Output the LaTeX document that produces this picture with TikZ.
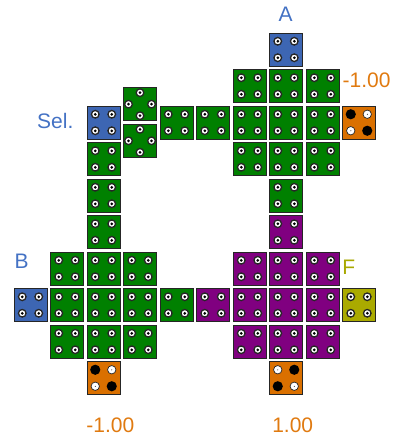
\documentclass[tikz,border=0pt]{standalone}
\usepackage{fontspec}
\setmainfont{Liberation Sans}
\definecolor{cblue}{HTML}{3D66B3}
\definecolor{cgreen}{HTML}{008000}
\definecolor{cpurple}{HTML}{800080}
\definecolor{corange}{HTML}{DA7000}
\definecolor{cyellow}{HTML}{AAAA00}
\definecolor{tblue}{HTML}{4472C4}
\definecolor{torange}{HTML}{E07A10}
\definecolor{tolive}{HTML}{A8A800}
\newcommand\ringdotat[1]{\draw[fill=white, line width=1.3pt] #1 circle[radius=3.8pt]; \fill[black] #1 circle[radius=1.5pt];}
\newcommand\blackdotat[1]{\fill[black] #1 circle[radius=5.1pt];}
\newcommand\whitedotat[1]{\draw[fill=white, line width=0.7pt] #1 circle[radius=4.2pt]; \fill[black] #1 circle[radius=0.5pt];}
\tikzset{
  cellbox/.style={draw=black!85, line width=0.8pt, minimum width=33pt, minimum height=33pt, inner sep=0pt, outer sep=0pt},
  dotcell/.style={cellbox, fill=#1, path picture={
      \coordinate (pc) at (path picture bounding box.center);
      \foreach \dx/\dy in {-8.25/8.25, 8.25/8.25, -8.25/-8.25, 8.25/-8.25}
        {\ringdotat{([shift={(\dx pt,\dy pt)}]pc)}}}},
  diamcell/.style={cellbox, fill=cgreen, path picture={
      \coordinate (pc) at (path picture bounding box.center);
      \foreach \dx/\dy in {0/11.5, -11.5/0, 11.5/0, 0/-11.5}
        {\ringdotat{([shift={(\dx pt,\dy pt)}]pc)}}}},
  orangeA/.style={cellbox, fill=corange, path picture={
      \coordinate (pc) at (path picture bounding box.center);
      \blackdotat{([shift={(-8.25pt,8.25pt)}]pc)}
      \whitedotat{([shift={(8.25pt,8.25pt)}]pc)}
      \whitedotat{([shift={(-8.25pt,-8.25pt)}]pc)}
      \blackdotat{([shift={(8.25pt,-8.25pt)}]pc)}}},
  orangeB/.style={cellbox, fill=corange, path picture={
      \coordinate (pc) at (path picture bounding box.center);
      \whitedotat{([shift={(-8.25pt,8.25pt)}]pc)}
      \blackdotat{([shift={(8.25pt,8.25pt)}]pc)}
      \blackdotat{([shift={(-8.25pt,-8.25pt)}]pc)}
      \whitedotat{([shift={(8.25pt,-8.25pt)}]pc)}}},
  lbl/.style={inner sep=0pt, font=\fontsize{21pt}{25pt}\selectfont}
}
\newcommand\cellat[3]{\node[#1] (n-#2-#3) at ({30.5+36.5*#2},{49.5+36.5*#3}) {};}
\begin{document}
\begin{tikzpicture}[x=1pt,y=-1pt]
\useasboundingbox (0,0) rectangle (394,439);
% green cells
\foreach \c/\r in {6/1,7/1,8/1, 4/2,5/2,6/2,7/2,8/2, 2/3,6/3,7/3,8/3, 2/4,7/4, 2/5,
                   1/6,2/6,3/6, 1/7,2/7,3/7,4/7, 1/8,2/8,3/8}
  {\cellat{dotcell=cgreen}{\c}{\r}}
% purple cells
\foreach \c/\r in {7/5, 6/6,7/6,8/6, 5/7,6/7,7/7,8/7, 6/8,7/8,8/8}
  {\cellat{dotcell=cpurple}{\c}{\r}}
% blue cells
\cellat{dotcell=cblue}{7}{0}
\cellat{dotcell=cblue}{2}{2}
\cellat{dotcell=cblue}{0}{7}
% yellow
\cellat{dotcell=cyellow}{9}{7}
% orange
\cellat{orangeA}{9}{2}
\cellat{orangeA}{2}{9}
\cellat{orangeB}{7}{9}
% diamond cells
\node[diamcell] (d-up) at (140,104.2) {};
\node[diamcell] (d-dn) at (140,140.8) {};
% labels
\node[lbl, text=tblue] (lA) at (285.5,14.5) {A};
\node[lbl, text=tblue, anchor=west] (lSel) at (37,120.7) {Sel.};
\node[lbl, text=tblue] (lB) at (21.7,261.3) {B};
\node[lbl, text=tolive] (lF) at (348.7,267) {F};
\node[lbl, text=torange, anchor=west] (lm1) at (342.5,80) {-1.00};
\node[lbl, text=torange] (lm2) at (110.3,425) {-1.00};
\node[lbl, text=torange] (lp1) at (292.7,425) {1.00};
\end{tikzpicture}
\end{document}
